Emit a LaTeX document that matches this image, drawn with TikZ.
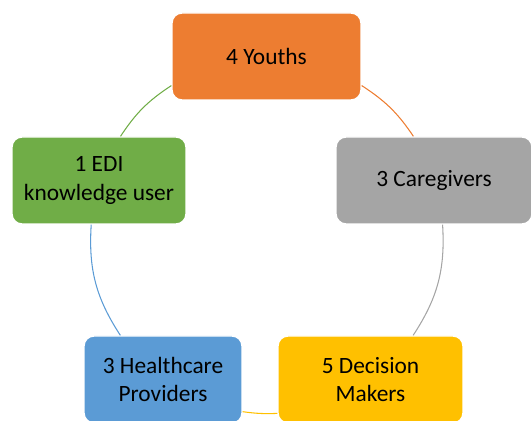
\documentclass[tikz,border=0pt]{standalone}
\usepackage{fontspec}
\setmainfont{Carlito}
\usepackage{tikz}
\usepackage{xcolor}
\definecolor{youthorange}{HTML}{ED7D31}
\definecolor{carergray}{HTML}{A5A5A5}
\definecolor{makeryellow}{HTML}{FFC000}
\definecolor{careblue}{HTML}{5B9BD5}
\definecolor{edigreen}{HTML}{70AD47}

\begin{document}
\begin{tikzpicture}[x=0.02cm,y=0.02cm,
  box/.style={draw=white,line width=0.8pt,rounded corners=0.2cm,align=center,
    minimum height=1.74cm,inner sep=2pt,font=\fontsize{13.3}{16}\selectfont},
  ring/.style={line width=0.6pt}]
\useasboundingbox (0,0) rectangle (531,421);
\node[box,fill=youthorange,minimum width=3.78cm] (Y) at (266.5,364.5) {4 Youths};
\node[box,fill=carergray,minimum width=3.92cm] (C) at (434,240.5) {3 Caregivers};
\node[box,fill=makeryellow,minimum width=3.7cm] (D) at (370.5,41.5) {5 Decision\\Makers};
\node[box,fill=careblue,minimum width=3.16cm] (H) at (163,41.5) {3 Healthcare\\Providers};
\node[box,fill=edigreen,minimum width=3.48cm] (E) at (99,240.5) {1 EDI\\knowledge user};
\draw [ring,edigreen] (E.64) edge[bend left=11.6] (Y.197);
\draw [ring,youthorange] (Y.-17) edge[bend left=11.5] (C.115);
\draw [ring,carergray] (C.-79) edge[bend left=18.4] (D.46);
\draw [ring,makeryellow] (D.200) edge[bend left=5] (H.-22);
\draw [ring,careblue] (H.134) edge[bend left=18.4] (E.260);
\end{tikzpicture}
\end{document}
